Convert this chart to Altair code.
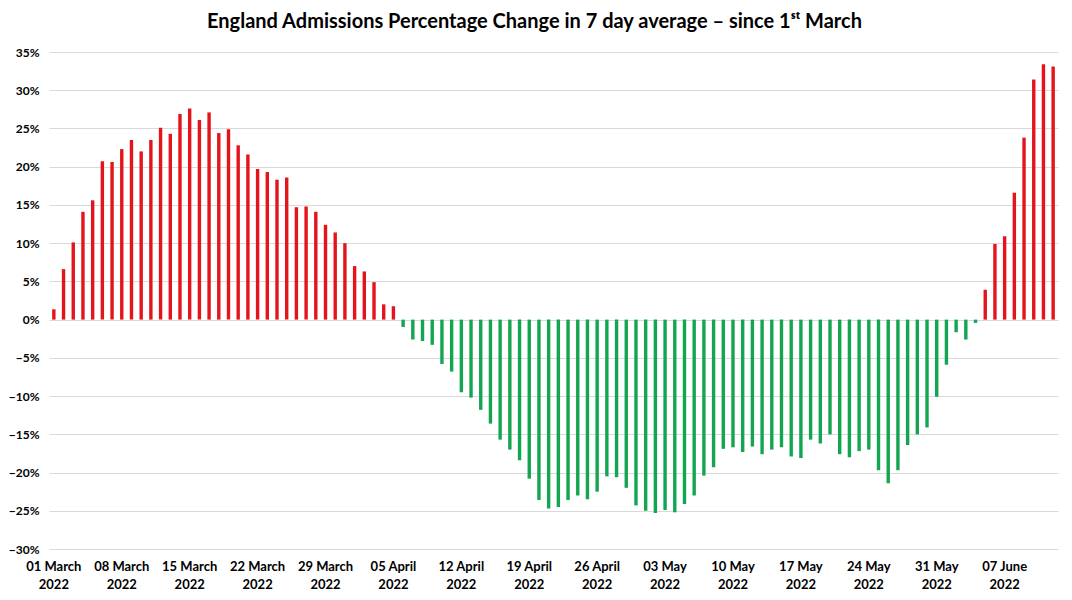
import altair as alt
import pandas as pd

# Daily percentage change in 7-day average admissions (since 1st March), 01 Mar - 12 Jun 2022
march_vals = [1.35, 6.6, 10.1, 14.1, 15.6, 20.7, 20.6, 22.3, 23.5, 22.0, 23.5, 25.1, 24.3, 26.9,
              27.6, 26.1, 27.1, 24.4, 24.9, 22.8, 21.6, 19.7, 19.3, 18.3, 18.6, 14.7, 14.8, 14.1,
              12.4, 11.4, 10.0]
april_vals = [7.0, 6.3, 4.9, 2.0, 1.75, -0.96, -2.6, -2.8, -3.3, -5.8, -6.8, -9.5, -10.2, -11.8,
              -13.6, -15.7, -17.0, -18.4, -20.8, -23.6, -24.7, -24.5, -23.6, -23.0, -23.5, -22.5,
              -20.5, -20.6, -22.0, -24.3]
may_vals = [-25.0, -25.3, -24.9, -25.2, -24.1, -23.0, -20.4, -19.3, -16.9, -16.7, -17.3, -16.6,
            -17.6, -17.0, -16.7, -17.9, -18.1, -15.7, -16.2, -15.0, -17.6, -18.0, -17.2, -17.0,
            -19.7, -21.4, -19.7, -16.4, -15.0, -14.1, -10.1]
june_vals = [-5.9, -1.65, -2.6, -0.43, 3.9, 9.9, 10.9, 16.6, 23.8, 31.4, 33.4, 33.1]

values = march_vals + april_vals + may_vals + june_vals
dates = list(pd.date_range("2022-03-01", periods=len(values)).strftime("%d %B %Y"))
tick_labels = dates[::7]

df = pd.DataFrame({
    "date": dates,
    "pct": [v / 100 for v in values],
    "sign": ["up" if v >= 0 else "down" for v in values],
})

title_text = "England Admissions Percentage Change in 7 day average \u2013 since 1\u02e2\u1d57 March"

chart = alt.Chart(df).mark_bar(size=3.4).encode(
    x=alt.X("date:N", sort=None, title=None,
            scale=alt.Scale(paddingInner=0, paddingOuter=0),
            axis=alt.Axis(values=tick_labels, labelAngle=0, ticks=False, domain=False,
                          labelFont="Lato", labelFontSize=13, labelFontWeight="bold",
                          labelColor="#000000", labelPadding=11, labelLineHeight=18,
                          labelExpr="[substring(datum.label, 0, length(datum.label) - 5), substring(datum.label, length(datum.label) - 4)]")),
    y=alt.Y("pct:Q", title=None,
            scale=alt.Scale(domain=[-0.30, 0.35], nice=False, zero=False),
            axis=alt.Axis(format=".0%", values=[i / 100 for i in range(-30, 40, 5)],
                          ticks=False, domain=False, gridColor="#d9d9d9", gridWidth=1,
                          labelFont="Lato", labelFontSize=12, labelFontWeight="bold",
                          labelColor="#000000", labelPadding=10)),
    color=alt.Color("sign:N", legend=None,
                    scale=alt.Scale(domain=["up", "down"], range=["#E3141B", "#14A552"])),
).properties(
    width=1009,
    height=497,
    padding={"left": 41, "top": 44, "right": 6, "bottom": 47},
    autosize=alt.AutoSizeParams(type="none"),
    title=alt.TitleParams(title_text, font="Lato", fontSize=20, fontWeight="bold",
                          color="#000000", anchor="middle", dx=-19, offset=14),
).configure_view(stroke=None)

chart.save("out.html", embed_options={"renderer": "svg", "actions": False})
